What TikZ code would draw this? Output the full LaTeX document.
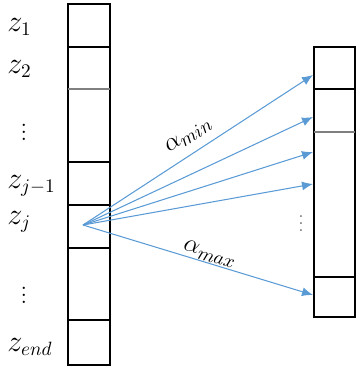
\documentclass[tikz,border=0pt]{standalone}
\usetikzlibrary{arrows.meta}
\definecolor{arrblue}{RGB}{91,155,213}

\begin{document}
\begin{tikzpicture}[x=0.02cm, y=-0.02cm,
    cell/.style={draw, line width=1.1pt, minimum width=0.84cm, inner sep=0pt, outer sep=0pt},
    lab/.style={anchor=west, inner sep=0pt, font=\fontsize{16}{18}\selectfont},
    link/.style={draw=arrblue, line width=0.6pt, -{Latex[length=0.22cm, width=0.18cm]}},
    alab/.style={sloped, inner sep=0pt, font=\fontsize{15}{17}\selectfont}]
  \useasboundingbox (0,0) rectangle (357,368);
  % left column
  \node[cell, minimum height=0.86cm] (c1) at (89,25.5) {};
  \node[cell, minimum height=0.84cm] (c2) at (89,68) {};
  \node[cell, minimum height=1.46cm] (cdots) at (89,125.5) {};
  \node[cell, minimum height=0.86cm] (cjm) at (89,183.5) {};
  \node[cell, minimum height=0.86cm] (cj) at (89,226.5) {};
  \node[cell, minimum height=1.44cm] (cdotsb) at (89,284) {};
  \node[cell, minimum height=0.9cm] (cend) at (89,342.5) {};
  \draw[gray, line width=1.1pt] (c2.south west) -- (c2.south east);
  % right column
  \node[cell, minimum width=0.82cm, minimum height=0.84cm] (r1) at (334.5,68) {};
  \node[cell, minimum width=0.82cm, minimum height=0.86cm] (r2) at (334.5,110.5) {};
  \node[cell, minimum width=0.82cm, minimum height=2.9cm] (rmid) at (334.5,204.5) {};
  \node[cell, minimum width=0.82cm, minimum height=0.8cm] (rlast) at (334.5,297) {};
  \draw[gray, line width=1.1pt] (r2.south west) -- (r2.south east);
  % labels
  \node[lab] (lz1) at (7,27) {$z_1$};
  \node[lab] (lz2) at (7,69) {$z_2$};
  \node[lab, anchor=center] (ldots) at (24,127) {$\vdots$};
  \node[lab] (lzjm) at (7,186) {$z_{j-1}$};
  \node[lab] (lzj) at (7,222) {$z_j$};
  \node[lab, anchor=center] (ldotsb) at (24,290) {$\vdots$};
  \node[lab] (lzend) at (7,347) {$z_{end}$};
  \node[text=gray!80!black, inner sep=0pt] (rdots) at (301,218) {$\vdots$};
  % arrows
  \coordinate (src) at (83,225);
  \coordinate (e1) at (313,75);
  \coordinate (e2) at (313,117);
  \coordinate (e3) at (313,152);
  \coordinate (e4) at (313,184);
  \coordinate (e5) at (313,295);
  \draw[link] (src) -- (e1) node[alab, pos=0.5, anchor=south, yshift=5pt] {$\alpha_{min}$};
  \draw[link] (src) -- (e2);
  \draw[link] (src) -- (e3);
  \draw[link] (src) -- (e4);
  \draw[link] (src) -- (e5) node[alab, pos=0.54, anchor=center, yshift=5pt] {$\alpha_{max}$};
\end{tikzpicture}
\end{document}
